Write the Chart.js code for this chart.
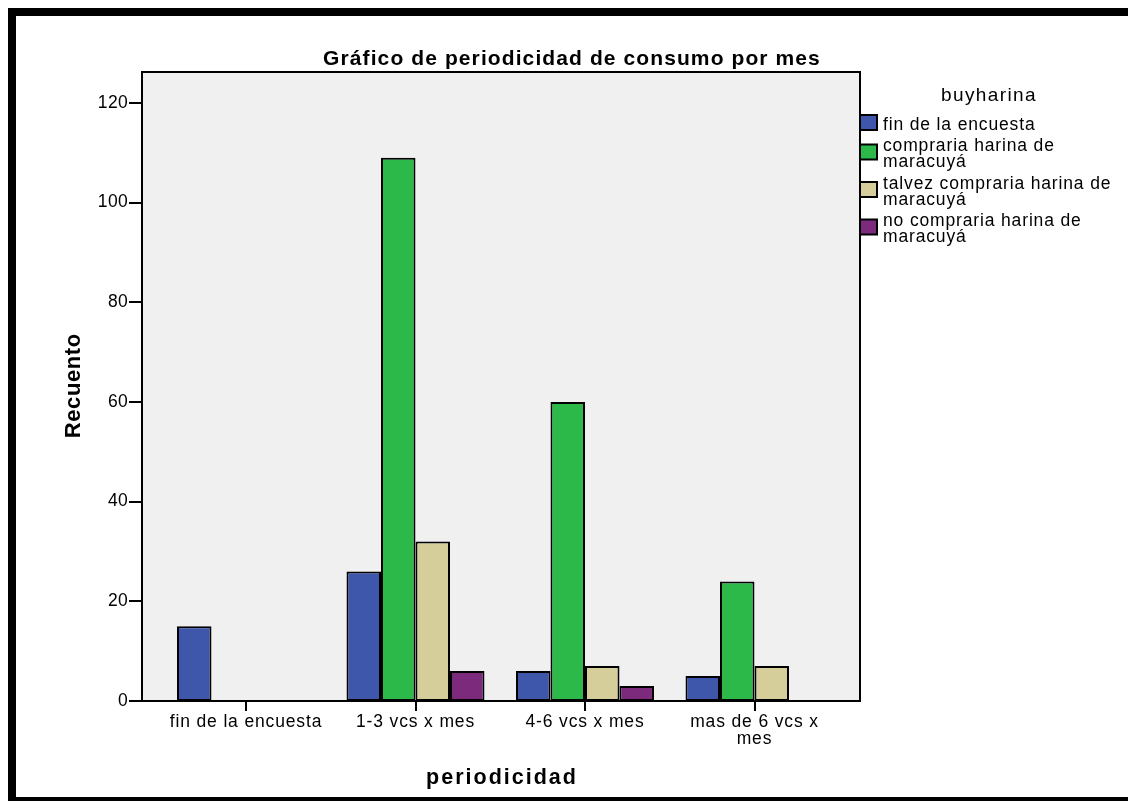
<!DOCTYPE html>
<html><head><meta charset="utf-8">
<script src="https://cdn.jsdelivr.net/npm/chart.js@4.4.1/dist/chart.umd.min.js"></script>
<style>html,body{margin:0;padding:0;background:#fff;overflow:hidden}canvas{display:block}</style>
</head><body>
<div style="width:1128px;height:801px;position:relative"><canvas id="c" width="1128" height="801"></canvas></div>
<script>
// ---- data ----
const categories = ['fin de la encuesta', '1-3 vcs x mes', '4-6 vcs x mes', 'mas de 6 vcs x mes'];
const tickLabels = [['fin de la encuesta'], ['1-3 vcs x mes'], ['4-6 vcs x mes'], ['mas de 6 vcs x', 'mes']];
const seriesNames = ['fin de la encuesta', 'compraria harina de maracuyá', 'talvez compraria harina de maracuyá', 'no compraria harina de maracuyá'];
const finEncuesta = [15, 26, 6, 5];
const compraria = [0, 109, 60, 24];
const talvez = [0, 32, 7, 7];
const noCompraria = [0, 6, 3, 0];
const yTicks = [0, 20, 40, 60, 80, 100, 120];
const chartTitle = 'Gráfico de periodicidad de consumo por mes';
const xTitle = 'periodicidad';
const yTitle = 'Recuento';
const legendTitle = 'buyharina';

// ---- styles ----
const seriesColors = ['#3E57AB', '#2DB84A', '#D5CE9A', '#7C2A7C'];
const FONT = '"Liberation Sans", Arial, Helvetica, sans-serif';

function wrapText(ctx, text, maxW) {
  const words = text.split(' ');
  const lines = [];
  let cur = '';
  for (const w of words) {
    const t = cur ? cur + ' ' + w : w;
    if (ctx.measureText(t).width > maxW && cur) { lines.push(cur); cur = w; }
    else cur = t;
  }
  if (cur) lines.push(cur);
  return lines;
}

const framePlugin = {
  id: 'frame',
  beforeDraw(chart) {
    const c = chart.ctx, a = chart.chartArea;
    c.save();
    c.fillStyle = '#fff';
    c.fillRect(0, 0, chart.width, chart.height);
    c.fillStyle = '#000';
    c.fillRect(8, 8, 1120, 8);
    c.fillRect(8, 8, 8, 793);
    c.fillRect(8, 797, 1120, 8);
    const L = a.left - 19.25, R = a.right + 20.75;
    c.fillStyle = '#F0F0F0';
    c.fillRect(L, a.top, R - L, a.bottom - a.top);
    c.restore();
    c.letterSpacing = '0.4px';
  },
  beforeDatasetsDraw(chart) {
    chart.ctx.letterSpacing = '0.85px';
  },
  afterDraw(chart) {
    const c = chart.ctx, a = chart.chartArea;
    c.letterSpacing = '0px';
    const L = a.left - 19.25, R = a.right + 20.75;
    c.save();
    c.strokeStyle = '#000';
    c.lineWidth = 2;
    c.strokeRect(L, a.top, R - L, a.bottom - a.top);
    // y tick marks
    const ys = chart.scales.y;
    ys.ticks.forEach(t => {
      const y = Math.round(ys.getPixelForValue(t.value));
      c.beginPath();
      c.moveTo(L - 13, y);
      c.lineTo(L, y);
      c.stroke();
    });
    c.fillStyle = '#000';
    // title
    c.font = 'bold 21px ' + FONT;
    c.letterSpacing = '1.1px';
    c.textAlign = 'center';
    c.textBaseline = 'alphabetic';
    c.fillText(chartTitle, 572, 65);
    // x title
    c.font = 'bold 21.5px ' + FONT;
    c.letterSpacing = '2px';
    c.fillText(xTitle, (L + R) / 2 + 1, 784);
    // y title
    c.save();
    c.translate(80, 386);
    c.rotate(-Math.PI / 2);
    c.font = 'bold 22px ' + FONT;
    c.letterSpacing = '0.6px';
    c.fillText(yTitle, 0.3, 0);
    c.restore();
    // legend
    c.font = '19px ' + FONT;
    c.letterSpacing = '1.4px';
    c.textAlign = 'center';
    c.fillText(legendTitle, 989, 101);
    c.font = '17.5px ' + FONT;
    c.letterSpacing = '0.85px';
    c.textAlign = 'left';
    c.textBaseline = 'middle';
    let y = 125;
    const lh = 16;
    chart.data.datasets.forEach((ds, i) => {
      const lines = wrapText(c, ds.label, 238);
      const blockCenter = y + (lines.length - 1) * lh / 2;
      c.fillStyle = ds.backgroundColor;
      c.fillRect(860, blockCenter - 2.5 - 7.5, 17, 15);
      c.strokeStyle = '#000';
      c.lineWidth = 2;
      c.strokeRect(860, blockCenter - 2.5 - 7.5, 17, 15);
      c.fillStyle = '#000';
      lines.forEach((ln, k) => c.fillText(ln, 883, y + k * lh));
      y += (lines.length - 1) * lh + 21.5;
    });
    c.restore();
    c.letterSpacing = '0px';
  }
};

const seriesData = [finEncuesta, compraria, talvez, noCompraria];
const ctx = document.getElementById('c').getContext('2d');
const chart = new Chart(ctx, {
  type: 'bar',
  data: {
    labels: tickLabels,
    datasets: seriesData.map((d, i) => ({
      label: seriesNames[i],
      data: d,
      backgroundColor: seriesColors[i],
      borderColor: '#000',
      borderWidth: 2,
      borderSkipped: false
    }))
  },
  options: {
    responsive: false,
    animation: false,
    devicePixelRatio: 1,
    layout: { padding: { left: 0, right: 288.75, top: 72, bottom: 0 } },
    plugins: { legend: { display: false }, title: { display: false }, tooltip: { enabled: false } },
    datasets: { bar: { categoryPercentage: 0.814, barPercentage: 1 } },
    scales: {
      x: {
        type: 'category',
        offset: true,
        grid: { display: true, offset: false, drawOnChartArea: false, drawTicks: true, tickLength: 10, color: '#000', lineWidth: 2 },
        border: { display: false },
        ticks: { autoSkip: false, maxRotation: 0, minRotation: 0, padding: 3, color: '#000', font: { family: FONT, size: 17.5, lineHeight: 0.95 }, z: 1 },
        afterFit: s => { s.height = 100; }
      },
      y: {
        min: 0,
        max: 126.2,
        grid: { display: false, drawTicks: false },
        border: { display: false },
        ticks: { stepSize: 20, includeBounds: false, padding: 33, color: '#000', font: { family: FONT, size: 17.5 } },
        afterBuildTicks: s => { s.ticks = yTicks.map(v => ({ value: v })); },
        afterFit: s => { s.width = 161.25; }
      }
    }
  },
  plugins: [framePlugin]
});
</script>
</body></html>
